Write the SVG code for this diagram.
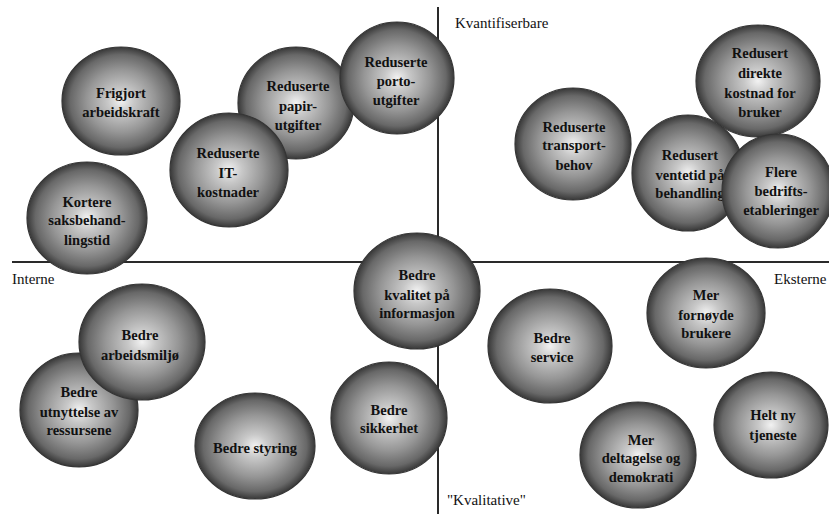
<svg xmlns="http://www.w3.org/2000/svg" width="829" height="514" viewBox="0 0 829 514">
<style>
  .bg { fill: #ffffff; }
  .axis { stroke: #2a2a2a; stroke-width: 2; fill: none; }
  .ball { fill: url(#ballGrad); stroke: #353535; stroke-width: 1.2; }
  .t { font-weight: bold; font-size: 14.5px; fill: #111; text-anchor: middle; }
  .lab { font-size: 15px; fill: #111; }
</style>
<defs>
  <radialGradient id="ballGrad" cx="50%" cy="50%" r="50%">
    <stop offset="0%" stop-color="#f2f2f2"/>
    <stop offset="22%" stop-color="#c8c8c8"/>
    <stop offset="58%" stop-color="#969696"/>
    <stop offset="86%" stop-color="#686868"/>
    <stop offset="100%" stop-color="#383838"/>
  </radialGradient>
</defs>
<rect class="bg" x="0" y="0" width="829" height="514"/>

<g id="connectors">
  <line class="axis" x1="12" y1="262" x2="829" y2="262"/>
  <line class="axis" x1="438" y1="7" x2="438" y2="514"/>
</g>

<g font-family="Liberation Serif, Times New Roman, serif">
<g id="labels">
  <text class="lab" x="455" y="28">Kvantifiserbare</text>
  <text class="lab" x="12" y="284">Interne</text>
  <text class="lab" x="774" y="284">Eksterne</text>
  <text class="lab" x="447" y="505">"Kvalitative"</text>
</g>

<g id="n-frigjort">
  <ellipse class="ball" cx="121" cy="101" rx="59" ry="54"/>
  <text class="t" x="121" y="98">Frigjort</text>
  <text class="t" x="121" y="117">arbeidskraft</text>
</g>
<g id="n-papir">
  <ellipse class="ball" cx="296" cy="103" rx="58" ry="56"/>
  <text class="t" x="298" y="91">Reduserte</text>
  <text class="t" x="298" y="111">papir-</text>
  <text class="t" x="298" y="130">utgifter</text>
</g>
<g id="n-porto">
  <ellipse class="ball" cx="397" cy="78" rx="57" ry="56"/>
  <text class="t" x="396" y="67">Reduserte</text>
  <text class="t" x="396" y="86">porto-</text>
  <text class="t" x="396" y="105">utgifter</text>
</g>
<g id="n-it">
  <ellipse class="ball" cx="229" cy="170" rx="59" ry="57"/>
  <text class="t" x="228" y="158">Reduserte</text>
  <text class="t" x="228" y="178">IT-</text>
  <text class="t" x="228" y="197">kostnader</text>
</g>
<g id="n-kortere">
  <ellipse class="ball" cx="87" cy="218" rx="60" ry="56"/>
  <text class="t" x="87" y="207">Kortere</text>
  <text class="t" x="87" y="225">saksbehand-</text>
  <text class="t" x="87" y="245">lingstid</text>
</g>
<g id="n-transport">
  <ellipse class="ball" cx="573" cy="144" rx="58" ry="56"/>
  <text class="t" x="574" y="132">Reduserte</text>
  <text class="t" x="574" y="150">transport-</text>
  <text class="t" x="574" y="170">behov</text>
</g>
<g id="n-direkte">
  <ellipse class="ball" cx="758" cy="81" rx="62" ry="56"/>
  <text class="t" x="760" y="58">Redusert</text>
  <text class="t" x="760" y="78">direkte</text>
  <text class="t" x="760" y="98">kostnad for</text>
  <text class="t" x="760" y="117">bruker</text>
</g>
<g id="n-ventetid">
  <ellipse class="ball" cx="688" cy="173" rx="56" ry="58"/>
  <text class="t" x="690" y="160">Redusert</text>
  <text class="t" x="690" y="180">ventetid på</text>
  <text class="t" x="690" y="198">behandling</text>
</g>
<g id="n-flere">
  <ellipse class="ball" cx="778" cy="191" rx="56" ry="57"/>
  <text class="t" x="781" y="177">Flere</text>
  <text class="t" x="781" y="196">bedrifts-</text>
  <text class="t" x="781" y="215">etableringer</text>
</g>
<g id="n-kvalitet">
  <ellipse class="ball" cx="417" cy="291" rx="63" ry="58"/>
  <text class="t" x="417" y="280">Bedre</text>
  <text class="t" x="417" y="300">kvalitet på</text>
  <text class="t" x="417" y="318">informasjon</text>
</g>
<g id="n-utnyttelse">
  <ellipse class="ball" cx="79" cy="410" rx="59" ry="57"/>
  <text class="t" x="79" y="397">Bedre</text>
  <text class="t" x="79" y="417">utnyttelse av</text>
  <text class="t" x="79" y="435">ressursene</text>
</g>
<g id="n-arbeidsmiljo">
  <ellipse class="ball" cx="142" cy="342" rx="63" ry="58"/>
  <text class="t" x="140" y="340">Bedre</text>
  <text class="t" x="140" y="360">arbeidsmiljø</text>
</g>
<g id="n-styring">
  <ellipse class="ball" cx="255" cy="446" rx="60" ry="53"/>
  <text class="t" x="255" y="453">Bedre styring</text>
</g>
<g id="n-sikkerhet">
  <ellipse class="ball" cx="389" cy="418" rx="58" ry="56"/>
  <text class="t" x="389" y="415">Bedre</text>
  <text class="t" x="389" y="433">sikkerhet</text>
</g>
<g id="n-service">
  <ellipse class="ball" cx="550" cy="346" rx="62" ry="57"/>
  <text class="t" x="552" y="343">Bedre</text>
  <text class="t" x="552" y="362">service</text>
</g>
<g id="n-fornoyde">
  <ellipse class="ball" cx="706" cy="313" rx="59" ry="55"/>
  <text class="t" x="706" y="300">Mer</text>
  <text class="t" x="706" y="320">fornøyde</text>
  <text class="t" x="706" y="338">brukere</text>
</g>
<g id="n-deltagelse">
  <ellipse class="ball" cx="638" cy="455" rx="58" ry="53"/>
  <text class="t" x="641" y="445">Mer</text>
  <text class="t" x="641" y="463">deltagelse og</text>
  <text class="t" x="641" y="482">demokrati</text>
</g>
<g id="n-heltny">
  <ellipse class="ball" cx="771" cy="425" rx="57" ry="53"/>
  <text class="t" x="773" y="420">Helt ny</text>
  <text class="t" x="773" y="440">tjeneste</text>
</g>
</g>
</svg>
